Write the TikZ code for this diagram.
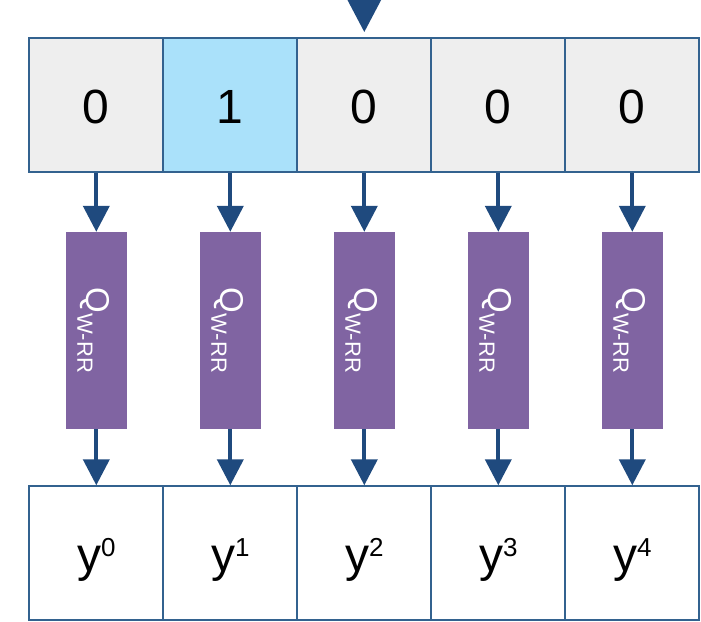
\documentclass[tikz,border=0pt]{standalone}
\usepackage{fontspec}
\setmainfont{Liberation Sans}
\usetikzlibrary{arrows.meta}
\definecolor{boxline}{HTML}{33628F}
\definecolor{arrowc}{HTML}{1F4A7E}
\definecolor{cellgray}{HTML}{EEEEEE}
\definecolor{cellblue}{HTML}{AAE1FA}
\definecolor{qpurple}{HTML}{8064A2}
\begin{document}
\begin{tikzpicture}[x=1pt,y=-1pt,
 cell/.style={draw=boxline, line width=1.8pt, minimum width=134pt, minimum height=134pt, inner sep=0pt, font=\fontsize{48}{50}\selectfont},
 topcell/.style={cell, fill=cellgray, text height=37pt, text depth=0pt},
 botcell/.style={cell, fill=white, text height=37pt, text depth=0pt},
 qbox/.style={fill=qpurple, minimum width=61pt, minimum height=197pt, inner sep=0pt, text=white, font=\fontsize{33}{35}\selectfont},
 arr/.style={draw=arrowc, line width=4pt, -{Triangle[width=26pt,length=26pt]}},
 bigarr/.style={draw=arrowc, line width=4pt, -{Triangle[width=32.5pt,length=32pt]}, shorten >=5pt}
]
\useasboundingbox (0,0) rectangle (701,621);
\newcommand{\qlab}{\rotatebox{-90}{Q\raisebox{-9pt}{\fontsize{22}{22}\selectfont W-RR}\rule{0pt}{29pt}}}
\newcommand{\ylab}[1]{y\raisebox{15pt}{\fontsize{26}{26}\selectfont #1}}
% top row
\node[topcell] (t0) at (96.3,105) {0};
\node[topcell, fill=cellblue] (t1) at (230.3,105) {1};
\node[topcell] (t2) at (364.3,105) {0};
\node[topcell] (t3) at (498.3,105) {0};
\node[topcell] (t4) at (632.3,105) {0};
% Q boxes
\node[qbox] (q0) at (96.3,330.5) {\qlab};
\node[qbox] (q1) at (230.3,330.5) {\qlab};
\node[qbox] (q2) at (364.3,330.5) {\qlab};
\node[qbox] (q3) at (498.3,330.5) {\qlab};
\node[qbox] (q4) at (632.3,330.5) {\qlab};
% bottom row
\node[botcell] (b0) at (96.3,553.2) {\ylab{0}};
\node[botcell] (b1) at (230.3,553.2) {\ylab{1}};
\node[botcell] (b2) at (364.3,553.2) {\ylab{2}};
\node[botcell] (b3) at (498.3,553.2) {\ylab{3}};
\node[botcell] (b4) at (632.3,553.2) {\ylab{4}};
% input arrow
\coordinate (in) at (364.3,-20);
\draw[bigarr] (in) -- (t2.north);
% arrows
\foreach \i in {0,...,4}{
  \draw[arr] (t\i.south) -- (q\i.north);
  \draw[arr] (q\i.south) -- (b\i.north);
}
\end{tikzpicture}
\end{document}
